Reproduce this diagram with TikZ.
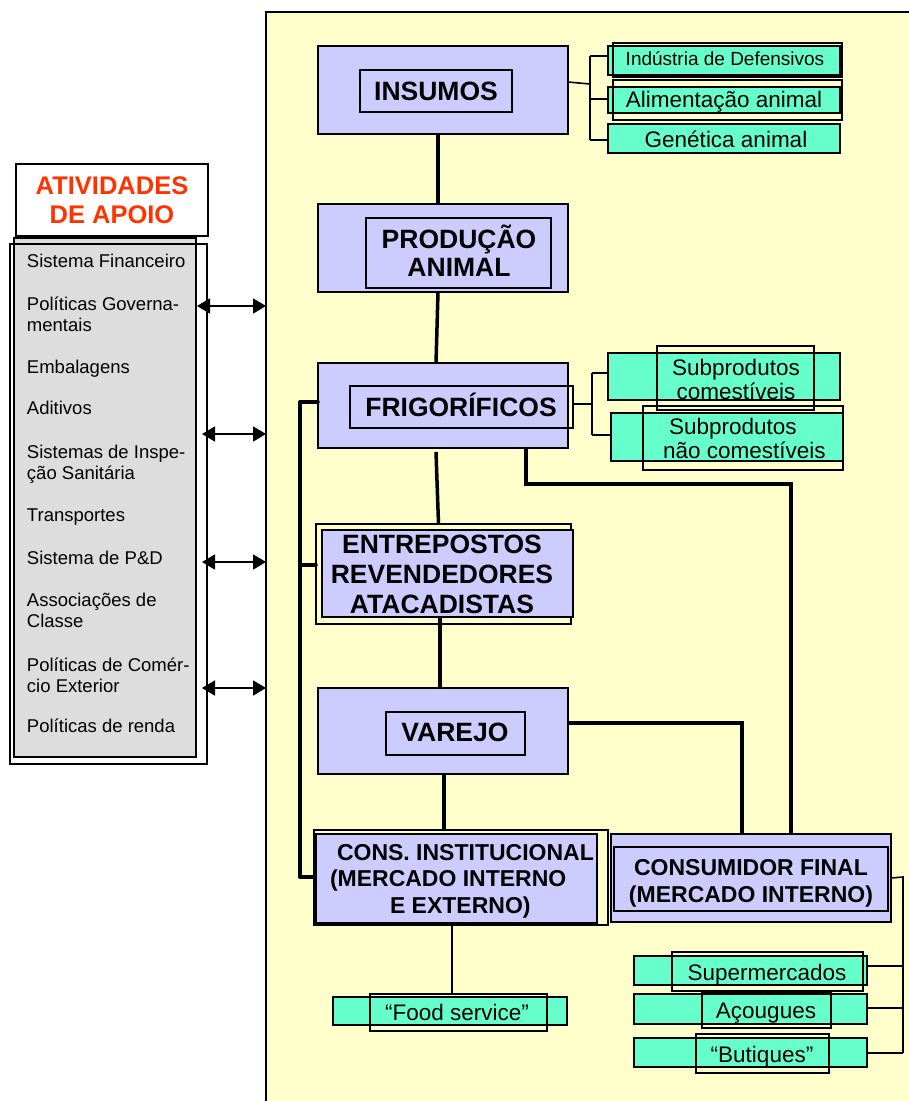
\documentclass[tikz,border=0pt]{standalone}
\usepackage{fontspec}
\setmainfont{Liberation Sans}
\usetikzlibrary{arrows.meta}

\definecolor{panel}{HTML}{FFFFCC}
\definecolor{lav}{HTML}{CCCCFF}
\definecolor{mint}{HTML}{66FFCC}
\definecolor{apoio}{HTML}{DDDDDD}
\definecolor{apoiored}{HTML}{FF3300}

\newcommand\chainfont{\fontsize{26.5}{28}\selectfont\bfseries}
\newcommand\entrefont{\fontsize{26.5}{30}\selectfont\bfseries}
\newcommand\consfont{\fontsize{23}{26.5}\selectfont\bfseries}
\newcommand\mintfont{\fontsize{22.5}{24}\selectfont}
\newcommand\mintsmall{\fontsize{19}{21}\selectfont}
\newcommand\apoiofont{\fontsize{18.5}{21}\selectfont}
\newcommand\apoiotitle{\fontsize{25.5}{29}\selectfont\bfseries}

% rectangle node from its corners: style, name, x1, y1, x2, y2
\newcommand\rectnode[6]{%
  \node[#1, minimum width={(#5)-(#3)}, minimum height={(#6)-(#4)}]
    (#2) at ({((#3)+(#5))/2},{((#4)+(#6))/2}) {};}

\begin{document}
\begin{tikzpicture}[x=1pt, y=-1pt,
  plainrect/.style={rectangle, inner sep=0pt, outer sep=0pt, line width=1.6pt},
  panelbox/.style={plainrect, draw, fill=panel, line width=1.5pt},
  lavbox/.style={plainrect, draw, fill=lav},
  mintbox/.style={plainrect, draw, fill=mint},
  boxline/.style={plainrect, draw},
  grayfill/.style={plainrect, draw, fill=apoio},
  whitebox/.style={plainrect, draw, fill=white},
  txt/.style={inner sep=0pt, outer sep=0pt, anchor=base},
  trunk/.style={line width=3.5pt},
  branch/.style={line width=1.6pt},
  dbl/.style={line width=1.8pt,
    {Triangle[length=13pt,width=15pt]}-{Triangle[length=13pt,width=15pt]}}]

\useasboundingbox (0,0) rectangle (909,1101);
\fill[white] (0,0) rectangle (909,1101);
\clip (0,0) rectangle (909,1101);

% main chain panel
\rectnode{panelbox}{chain}{266}{12}{930}{1120}

% support activities column
\rectnode{whitebox}{apoioT}{16}{164}{208}{236}
\rectnode{grayfill}{apoioA}{14}{238}{196}{757}
\rectnode{boxline}{apoioB}{10}{244}{207}{764}

% chain stages
\rectnode{lavbox}{ins}{318}{46}{568}{134}
\rectnode{boxline}{insI}{360}{70}{512}{112}
\rectnode{lavbox}{prod}{318}{204}{568}{292}
\rectnode{boxline}{prodI}{366}{218}{551}{288}
\rectnode{lavbox}{frig}{318}{363}{568}{448}
\rectnode{boxline}{frigI}{350}{386}{573}{428}
\rectnode{boxline}{entreF}{316}{524}{571}{624}
\rectnode{lavbox}{entre}{322}{530}{573}{617}
\rectnode{lavbox}{var}{318}{688}{568}{774}
\rectnode{boxline}{varI}{386}{712}{525}{755}
\rectnode{boxline}{consF}{314}{830}{608}{925}
\rectnode{lavbox}{cons}{316}{834}{597}{923}
\rectnode{lavbox}{cfin}{611}{834}{891}{922}
\rectnode{boxline}{cfinI}{614}{847}{888}{911}

% side boxes
\rectnode{mintbox}{indf}{608}{46}{840}{75}
\rectnode{boxline}{indfF}{613}{43}{842}{77}
\rectnode{mintbox}{alim}{608}{87}{840}{113}
\rectnode{boxline}{alimF}{613}{80}{842}{120}
\rectnode{mintbox}{gen}{608}{124}{840}{153}
\rectnode{mintbox}{sub1}{608}{353}{840}{400}
\rectnode{boxline}{sub1F}{657}{346}{814}{410}
\rectnode{mintbox}{sub2}{611}{413}{843}{461}
\rectnode{boxline}{sub2F}{643}{406}{843}{470}
\rectnode{mintbox}{superm}{634}{956}{867}{985}
\rectnode{boxline}{supermF}{672}{952}{863}{991}
\rectnode{mintbox}{acoug}{634}{994}{867}{1024}
\rectnode{boxline}{acougF}{702}{992}{831}{1028}
\rectnode{mintbox}{butiq}{634}{1038}{867}{1067}
\rectnode{boxline}{butiqF}{696}{1034}{829}{1073}
\rectnode{mintbox}{food}{333}{997}{567}{1025}
\rectnode{boxline}{foodF}{370}{994}{547}{1031}

% junction points
\coordinate (busTop) at (300,402);
\coordinate (busMid) at (300,565);
\coordinate (busBot) at (300,877);
\coordinate (fknee) at (791,484);
\coordinate (ibj) at (590,84);
\coordinate (ib1) at (590,56);
\coordinate (ib2) at (590,99);
\coordinate (ib3) at (590,140);
\coordinate (fbj) at (592,404);
\coordinate (fb1) at (592,373);
\coordinate (fb2) at (592,435);
\coordinate (cb0) at (903,877);
\coordinate (cb1) at (903,966);
\coordinate (cb2) at (903,1008);
\coordinate (cb3) at (903,1053);
\coordinate (a1) at (197,306);
\coordinate (a2) at (202,434);
\coordinate (a3) at (202,562);
\coordinate (a4) at (202,688);

% main flow
\draw[trunk] ([xshift=-5pt]ins.south) -- ([xshift=-5pt]prod.north);
\draw[trunk] ([xshift=-5pt]prod.south) -- ([xshift=-7pt]frig.north);
\draw[trunk] ([xshift=-7pt,yshift=-4pt]frig.south) -- ([xshift=-5pt]entreF.north);
\draw[trunk] ([xshift=-7.5pt]entre.south) -- ([xshift=-3pt]var.north);
\draw[trunk] ([xshift=1pt]var.south) -- ([xshift=-17pt]consF.north);
\draw[branch] ([xshift=-9pt]consF.south) -- ([xshift=-6.5pt]foodF.north);

% left bus feeding the institutional market
\draw[trunk, line cap=round] (busTop) -- (busBot);
\draw[trunk, line cap=round] (busTop) -- (busTop -| frig.west);
\draw[trunk, line cap=round] (busMid) -- (busMid -| entreF.west);
\draw[trunk, line cap=round] (busBot) -- (busBot -| consF.west);

% links to the final consumer
\draw[trunk] ([xshift=83pt]frig.south) |- (fknee) -- (fknee |- cfin.north);
\draw[trunk] ([yshift=8pt]var.east) -| ([xshift=-9pt]cfin.north);

% input suppliers
\draw[branch] ([yshift=8pt]ins.east) -- (ibj);
\draw[branch] (ib1) -- (ib3);
\draw[branch] (ib1) -- (ib1 -| indf.west);
\draw[branch] (ib2) -- (ib2 -| alim.west);
\draw[branch] (ib3) -- (ib3 -| gen.west);

% by-products
\draw[branch] ([yshift=3pt]frigI.east) -- (fbj);
\draw[branch] (fb1) -- (fb2);
\draw[branch] (fb1) -- (fb1 -| sub1.west);
\draw[branch] (fb2) -- (fb2 -| sub2.west);

% retail outlets
\draw[branch] (cfin.east) -- (cb0) -- (cb3);
\draw[branch] (cb1) -- (cb1 -| superm.east);
\draw[branch] (cb2) -- (cb2 -| acoug.east);
\draw[branch] (cb3) -- (cb3 -| butiq.east);

% support activities interact with the chain
\draw[dbl] (a1) -- (a1 -| chain.west);
\draw[dbl] (a2) -- (a2 -| chain.west);
\draw[dbl] (a3) -- (a3 -| chain.west);
\draw[dbl] (a4) -- (a4 -| chain.west);

% texts of the chain (multi-line nodes sit on the baseline of their last line)
\node[txt, font=\chainfont] (tIns) at (436,100) {INSUMOS};
\node[txt, font=\chainfont, align=center] (tProd) at (459,276) {PRODUÇÃO\\ANIMAL};
\node[txt, font=\chainfont] (tFrig) at (461,416) {FRIGORÍFICOS};
\node[txt, font=\entrefont, align=center] (tEntre) at (442,613) {ENTREPOSTOS\\REVENDEDORES\\ATACADISTAS};
\node[txt, font=\chainfont] (tVar) at (455,741) {VAREJO};
\node[txt, font=\consfont, align=left, anchor=base west] (tCons) at (330,913)
  {\hspace*{7pt}CONS. INSTITUCIONAL\\(MERCADO INTERNO\\\hspace*{60pt}E EXTERNO)};
\node[txt, font=\consfont, align=center] (tCfin) at (751,902) {CONSUMIDOR FINAL\\(MERCADO INTERNO)};

% texts of the side boxes
\node[txt, font=\mintsmall] (tIndf) at (725,65) {Indústria de Defensivos};
\node[txt, font=\mintfont] (tAlim) at (724,107) {Alimentação animal};
\node[txt, font=\mintfont] (tGen) at (726,147) {Genética animal};
\node[txt, font=\mintfont, align=center] (tSub1) at (736,399) {Subprodutos\\comestíveis};
\node[txt, font=\mintfont, align=left, anchor=base west] (tSub2) at (663,458)
  {\hspace*{6pt}Subprodutos\\não comestíveis};
\node[txt, font=\mintfont] (tSuper) at (767,980) {Supermercados};
\node[txt, font=\mintfont] (tAcoug) at (766,1018) {Açougues};
\node[txt, font=\mintfont] (tButiq) at (762,1062) {“Butiques”};
\node[txt, font=\mintfont] (tFood) at (457,1020) {“Food service”};

% support activities
\node[txt, font=\apoiotitle, text=apoiored, align=center] (tApoio) at (112,223) {ATIVIDADES\\DE APOIO};
\begin{scope}[every node/.style={txt, font=\apoiofont, anchor=base west, align=left}]
\node (l1) at (27,267) {Sistema Financeiro};
\node (l2) at (27,331) {Políticas Governa-\\mentais};
\node (l3) at (27,373) {Embalagens};
\node (l4) at (27,414) {Aditivos};
\node (l5) at (27,479) {Sistemas de Inspe-\\ção Sanitária};
\node (l6) at (27,521) {Transportes};
\node (l7) at (27,564) {Sistema de P\&D};
\node (l8) at (27,627) {Associações de\\Classe};
\node (l9) at (27,692) {Políticas de Comér-\\cio Exterior};
\node (l10) at (27,732) {Políticas de renda};
\end{scope}
\end{tikzpicture}
\end{document}
